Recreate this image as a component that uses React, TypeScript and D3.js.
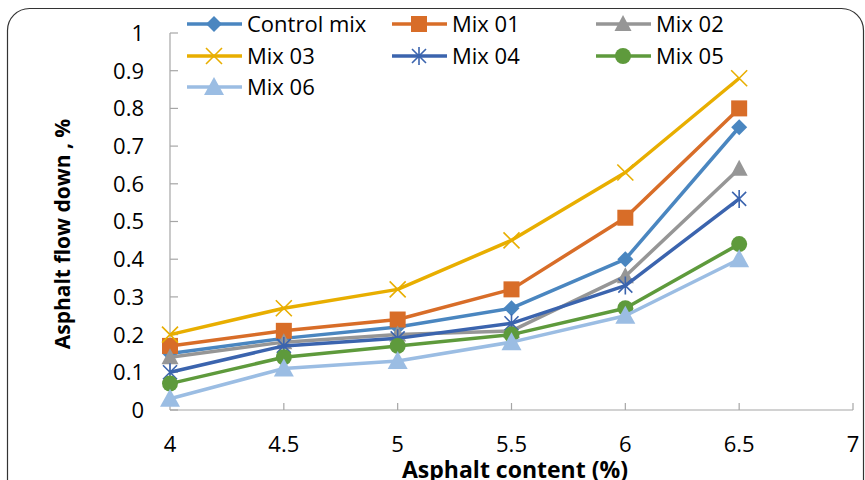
import * as d3 from 'd3';

const xValues = [4, 4.5, 5, 5.5, 6, 6.5];
const controlMix = [0.15, 0.19, 0.22, 0.27, 0.4, 0.75];
const mix01 = [0.17, 0.21, 0.24, 0.32, 0.51, 0.8];
const mix02 = [0.14, 0.18, 0.2, 0.21, 0.355, 0.64];
const mix03 = [0.2, 0.27, 0.32, 0.45, 0.63, 0.88];
const mix04 = [0.1, 0.17, 0.19, 0.23, 0.33, 0.56];
const mix05 = [0.07, 0.14, 0.17, 0.2, 0.27, 0.44];
const mix06 = [0.03, 0.11, 0.13, 0.18, 0.25, 0.4];
const seriesNames = ['Control mix', 'Mix 01', 'Mix 02', 'Mix 03', 'Mix 04', 'Mix 05', 'Mix 06'];
const xTicks = [4, 4.5, 5, 5.5, 6, 6.5, 7];
const yTicks = [0, 0.1, 0.2, 0.3, 0.4, 0.5, 0.6, 0.7, 0.8, 0.9, 1];

const W = 865;
const H = 480;
const font = "'Open Sans', 'Liberation Sans', sans-serif";

type Shape = 'diamond' | 'square' | 'triangle' | 'bigTriangle' | 'x' | 'star' | 'circle';

const series = [
  { name: seriesNames[0], values: controlMix, color: '#4a86c0', shape: 'diamond' as Shape },
  { name: seriesNames[1], values: mix01, color: '#d86d28', shape: 'square' as Shape },
  { name: seriesNames[2], values: mix02, color: '#969696', shape: 'triangle' as Shape },
  { name: seriesNames[3], values: mix03, color: '#e8ae00', shape: 'x' as Shape },
  { name: seriesNames[4], values: mix04, color: '#3b64ae', shape: 'star' as Shape },
  { name: seriesNames[5], values: mix05, color: '#5e9a3c', shape: 'circle' as Shape },
  { name: seriesNames[6], values: mix06, color: '#9bbde3', shape: 'bigTriangle' as Shape },
];

const Marker = ({ shape, color, cx, cy }: { shape: Shape; color: string; cx: number; cy: number }) => {
  switch (shape) {
    case 'diamond':
      return <path d={`M${cx},${cy - 8}L${cx + 8},${cy}L${cx},${cy + 8}L${cx - 8},${cy}Z`} fill={color} />;
    case 'square':
      return <rect x={cx - 8} y={cy - 8} width={16} height={16} fill={color} />;
    case 'triangle':
      return <path d={`M${cx},${cy - 9}L${cx + 8.5},${cy + 7}L${cx - 8.5},${cy + 7}Z`} fill={color} />;
    case 'bigTriangle':
      return <path d={`M${cx},${cy - 10}L${cx + 10},${cy + 8}L${cx - 10},${cy + 8}Z`} fill={color} />;
    case 'circle':
      return <circle cx={cx} cy={cy} r={8} fill={color} />;
    case 'x':
      return (
        <path d={`M${cx - 8},${cy - 8}L${cx + 8},${cy + 8}M${cx - 8},${cy + 8}L${cx + 8},${cy - 8}`}
          stroke={color} strokeWidth={1.6} fill="none" />
      );
    case 'star':
      return (
        <path d={`M${cx - 7},${cy - 7}L${cx + 7},${cy + 7}M${cx - 7},${cy + 7}L${cx + 7},${cy - 7}M${cx},${cy - 9}L${cx},${cy + 9}`}
          stroke={color} strokeWidth={1.6} fill="none" />
      );
  }
  return null;
};

const App = () => {
  const x = d3.scaleLinear().domain([4, 7]).range([170, 853]);
  const y = d3.scaleLinear().domain([0, 1]).range([410, 33]);
  const line = d3.line<number>()
    .x((_, i) => x(xValues[i]))
    .y((d) => y(d));
  const axisColor = '#a6a6a6';

  const legendCols = [187, 392, 596];
  const legendRows = [24, 56, 87];

  return (
    <svg width={W} height={H} style={{ position: 'absolute', left: 0, top: 0, background: '#fff' }} fontFamily={font}>
      <rect x={7.5} y={8.5} width={856} height={H + 30} rx={22} fill="#fff" stroke="#333" strokeWidth={1.2} />

      {/* axes, ticks pointing inwards */}
      <line x1={x(4)} x2={x(4)} y1={y(1)} y2={y(0)} stroke={axisColor} strokeWidth={1.2} />
      <line x1={x(4)} x2={x(7)} y1={y(0)} y2={y(0)} stroke={axisColor} strokeWidth={1.2} />
      {yTicks.map((t) => (
        <g key={`y${t}`}>
          <line x1={x(4)} x2={x(4) + 8} y1={y(t)} y2={y(t)} stroke={axisColor} strokeWidth={1.2} />
          <text x={144} y={y(t)} dy="0.36em" textAnchor="end" fontSize={22} fill="#000">{d3.format('')(t)}</text>
        </g>
      ))}
      {xTicks.map((t) => (
        <g key={`x${t}`}>
          {t > 4 && <line x1={x(t)} x2={x(t)} y1={y(0)} y2={y(0) - 7} stroke={axisColor} strokeWidth={1.2} />}
          <text x={x(t)} y={444} dy="0.36em" textAnchor="middle" fontSize={22} fill="#000">{t}</text>
        </g>
      ))}

      {/* series */}
      {series.map((s) => (
        <g key={s.name}>
          <path d={line(s.values) || ''} fill="none" stroke={s.color} strokeWidth={3.5} strokeLinejoin="round" />
          {s.values.map((v, i) => (
            <Marker key={i} shape={s.shape} color={s.color} cx={x(xValues[i])} cy={y(v)} />
          ))}
        </g>
      ))}

      {/* legend */}
      {series.map((s, i) => {
        const lx = legendCols[i % 3];
        const ly = legendRows[Math.floor(i / 3)];
        return (
          <g key={`leg${s.name}`}>
            <line x1={lx} x2={lx + 55} y1={ly} y2={ly} stroke={s.color} strokeWidth={3.5} />
            <Marker shape={s.shape} color={s.color} cx={lx + 27} cy={ly} />
            <text x={lx + 60} y={ly} dy="0.36em" fontSize={22} fill="#000">{s.name}</text>
          </g>
        );
      })}

      {/* titles */}
      <text x={515} y={478} textAnchor="middle" fontSize={23} fontWeight="bold" fill="#000">Asphalt content (%)</text>
      <text transform={`translate(70,234) rotate(-90)`} textAnchor="middle" fontSize={21} fontWeight="bold" fill="#000">
        Asphalt flow down , %
      </text>
    </svg>
  );
};

export default App;
